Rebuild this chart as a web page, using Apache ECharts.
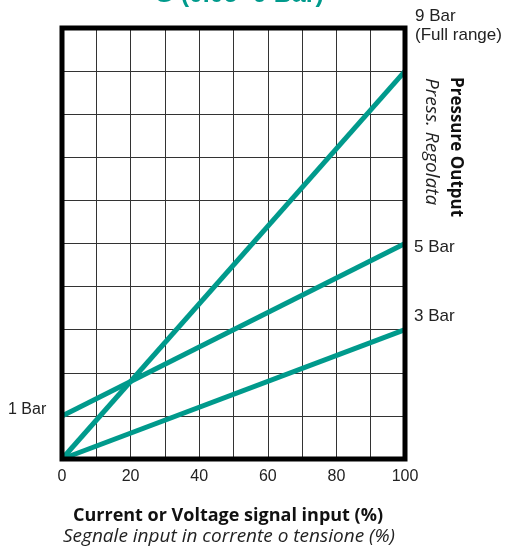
<!DOCTYPE html>
<html>
<head>
<meta charset="utf-8">
<script src="https://cdn.jsdelivr.net/npm/echarts@6/dist/echarts.min.js"></script>
<style>html,body{margin:0;padding:0;background:#fff}#c{width:505px;height:549px}</style>
</head>
<body>
<div id="c"></div>
<script>
var inputPercent = [0, 100];
var range9 = [0, 9];
var range5 = [1, 5];
var range3 = [0, 3];
var xTickLabels = [0, 20, 40, 60, 80, 100];
var titleText = 'G (0.05 -9 Bar)';
var xTitle = 'Current or Voltage signal input (%)';
var xSubtitle = 'Segnale input in corrente o tensione (%)';
var yTitle = 'Pressure Output';
var ySubtitle = 'Press. Regolata';
var teal = '#009a8c';

function pairs(ys) { return inputPercent.map(function (x, i) { return [x, ys[i]]; }); }

var chart = echarts.init(document.getElementById('c'), null, {renderer: 'canvas'});
var labelFont = 'Liberation Sans, Arial, sans-serif';
var titleFont = 'Open Sans, sans-serif';
function lineSeries(ys) {
  return {type: 'line', data: pairs(ys), symbol: 'none', silent: true,
    lineStyle: {color: teal, width: 5}, z: 3};
}
chart.setOption({
  animation: false,
  grid: {left: 62, right: 100, top: 28, bottom: 90, show: true, borderColor: '#000', borderWidth: 5, backgroundColor: 'transparent', z: 4},
  xAxis: {type: 'value', min: 0, max: 100, interval: 10,
    axisLine: {show: false}, axisTick: {show: false},
    splitLine: {show: true, lineStyle: {color: '#333', width: 1}},
    axisLabel: {margin: 10, color: '#222', fontSize: 16, fontFamily: labelFont,
      formatter: function (v) { return xTickLabels.indexOf(v) >= 0 ? String(v) : ''; }}},
  yAxis: {type: 'value', min: 0, max: 10, interval: 1,
    axisLine: {show: false}, axisTick: {show: false}, axisLabel: {show: false},
    splitLine: {show: true, lineStyle: {color: '#333', width: 1}}},
  series: [lineSeries(range9), lineSeries(range5), lineSeries(range3)],
  graphic: [
    {type: 'text', x: 239, y: 8, style: {text: titleText, fill: teal, font: 'bold 25px ' + labelFont, align: 'center', verticalAlign: 'bottom'}},
    {type: 'text', x: 415, y: 16, style: {text: '9 Bar', fill: '#222', font: '17px ' + labelFont, verticalAlign: 'middle'}},
    {type: 'text', x: 415, y: 35, style: {text: '(Full range)', fill: '#222', font: '17px ' + labelFont, verticalAlign: 'middle'}},
    {type: 'text', x: 414, y: 247, style: {text: '5 Bar', fill: '#222', font: '17px ' + labelFont, verticalAlign: 'middle'}},
    {type: 'text', x: 414, y: 316, style: {text: '3 Bar', fill: '#222', font: '17px ' + labelFont, verticalAlign: 'middle'}},
    {type: 'text', x: 8, y: 410, style: {text: '1 Bar', fill: '#222', font: '16px ' + labelFont, verticalAlign: 'middle'}},
    {type: 'text', x: 228, y: 516, style: {text: xTitle, fill: '#111', font: 'bold 18px ' + titleFont, align: 'center', verticalAlign: 'middle'}},
    {type: 'text', x: 229, y: 537, style: {text: xSubtitle, fill: '#222', font: 'italic 19px ' + titleFont, align: 'center', verticalAlign: 'middle'}},
    {type: 'text', x: 456, y: 77, rotation: -Math.PI / 2, style: {text: yTitle, fill: '#111', font: 'bold 17px ' + titleFont, align: 'left', verticalAlign: 'middle'}},
    {type: 'text', x: 431, y: 78, rotation: -Math.PI / 2, style: {text: ySubtitle, fill: '#222', font: 'italic 19px ' + titleFont, align: 'left', verticalAlign: 'middle'}}
  ]
});
</script>
</body>
</html>
